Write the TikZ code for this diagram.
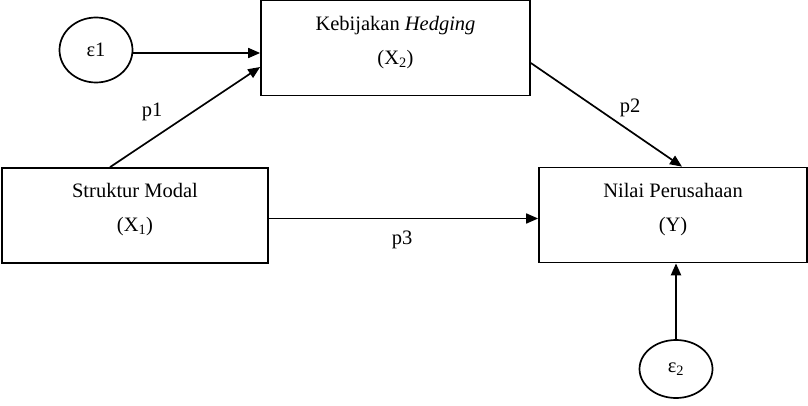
\documentclass[tikz,border=0pt]{standalone}
\usepackage{fontspec}
\setmainfont{Liberation Serif}
\usetikzlibrary{arrows.meta,positioning,calc,shapes.geometric}

\begin{document}
\begin{tikzpicture}[
  x=1pt, y=-1pt,
  font=\fontsize{20.5}{24}\selectfont,
  box/.style={draw,line width=1.7pt,align=center,text depth=16pt,
              minimum width=#1,minimum height=95pt,inner sep=0pt},
  err/.style={draw,line width=1.7pt,ellipse,inner sep=0pt,
              minimum width=73pt,minimum height=#1},
  path/.style={-{Triangle[length=12pt,width=10pt]},line width=1.7pt}
]
\useasboundingbox (0,0) rectangle (808,406);
\node[box=269pt] (x2) at (395.5,48) {Kebijakan \textit{Hedging}\\[10pt](X\textsubscript{2})};
\node[box=266pt] (x1) at (135,215.5) {Struktur Modal\\[10pt](X\textsubscript{1})};
\node[box=268pt] (y)  at (673,215)   {Nilai Perusahaan\\[10pt](Y)};
\node[err=65pt] (e1) at (96,50)  {ε1};
\node[err=58pt] (e2) at (676,369) {ε\textsubscript{2}};
\draw[path] ([yshift=-3pt]e1.east) -- ([yshift=-3pt]e1.east -| x2.west);
\draw[path] ([xshift=-25pt]x1.north) -- ([yshift=-19pt]x2.west);
\draw[path] ([yshift=-15pt]x2.east) -- ([xshift=9pt]y.north);
\draw[path] ([yshift=-3pt]x1.east) -- ([yshift=-3pt]x1.east -| y.west);
\draw[path,line width=2.3pt] (e2.north) -- (e2.north |- y.south);
\node (lp1) at (152,112) {p1};
\node (lp2) at (630,108) {p2};
\node (lp3) at (402,240) {p3};
\end{tikzpicture}
\end{document}
